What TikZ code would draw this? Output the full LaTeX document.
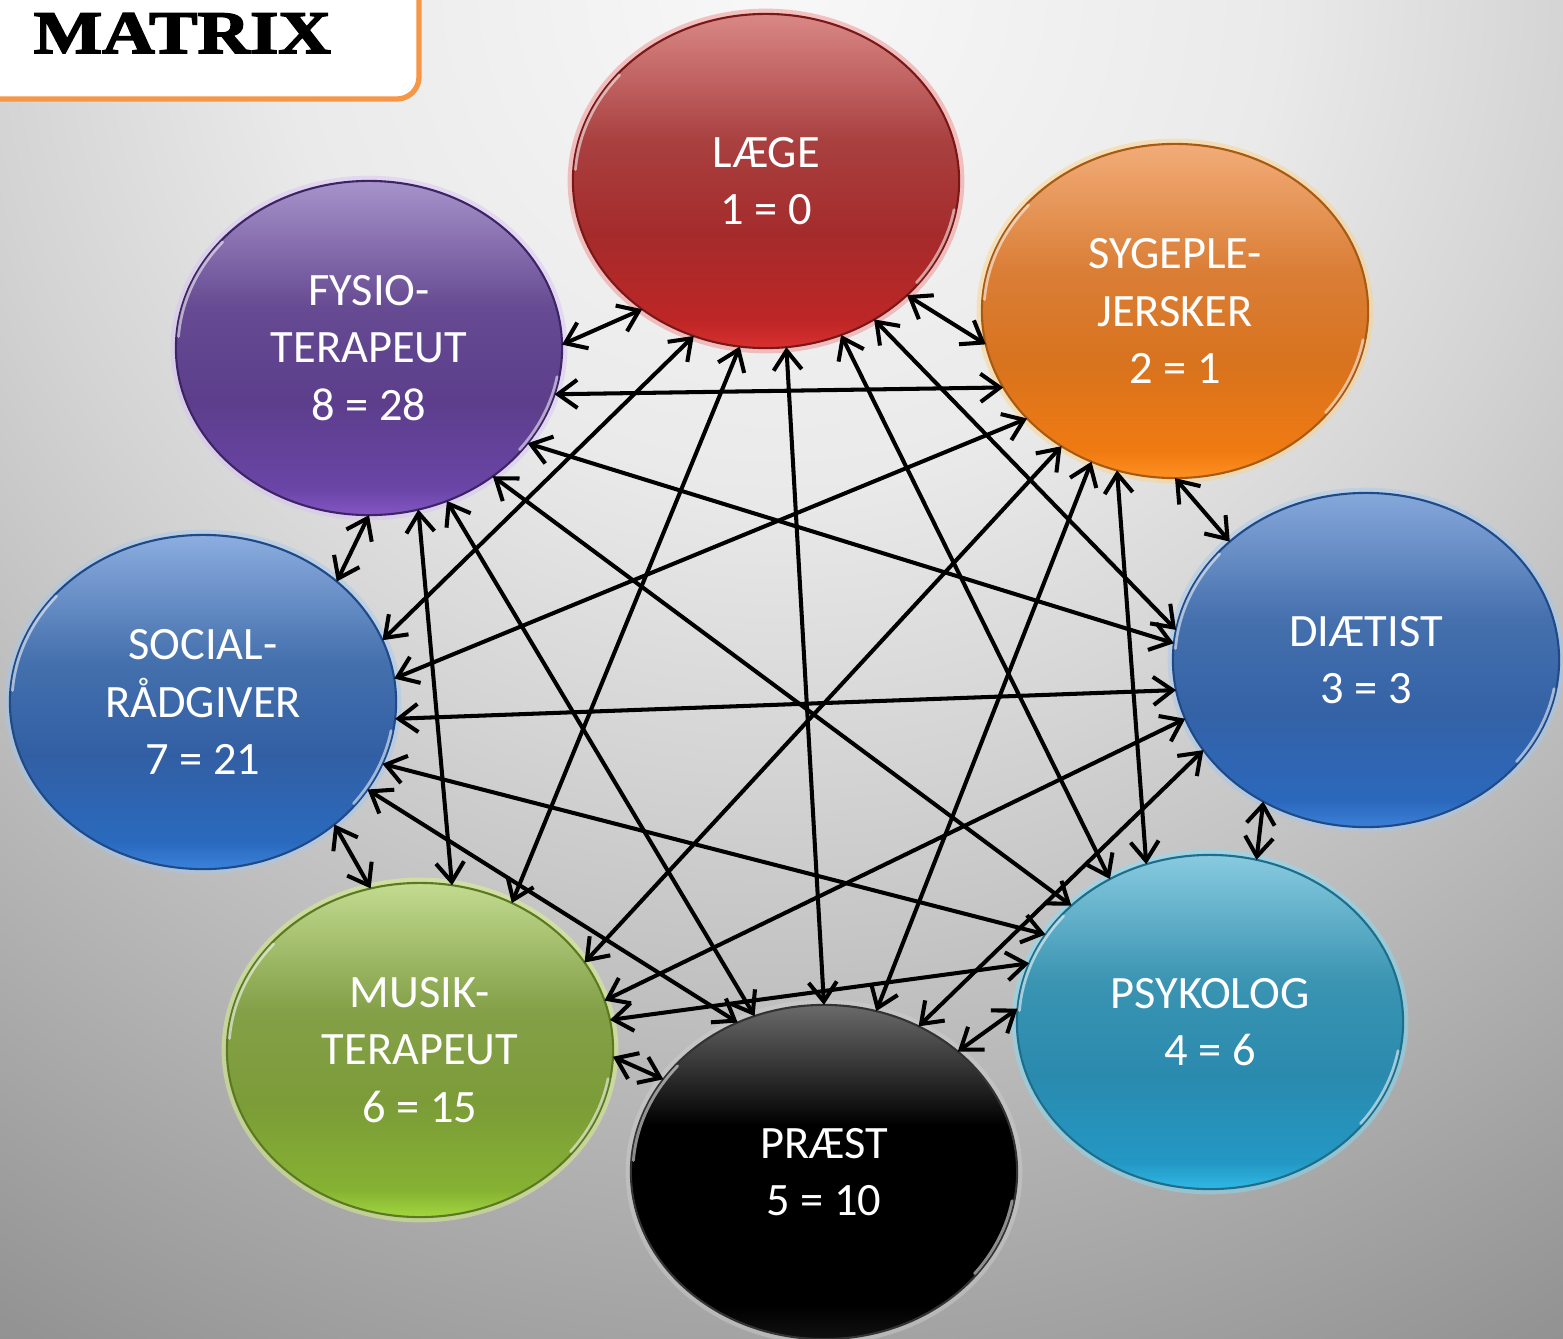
\documentclass[tikz,border=0pt]{standalone}
\usepackage{fontspec}
\setmainfont{Carlito}
\newfontfamily\titlefont{Liberation Serif}[BoldFeatures={FakeBold=2.5}]
\usetikzlibrary{arrows.meta,shapes.geometric}

% background
\definecolor{bgA}{HTML}{F8F8F8}
\definecolor{bgB}{HTML}{EAEAEA}
\definecolor{bgC}{HTML}{D3D3D3}
\definecolor{bgD}{HTML}{939393}
\definecolor{bgE}{HTML}{8C8C8C}
\pgfdeclareradialshading{bgrad}{\pgfpoint{0bp}{0bp}}{color(0bp)=(bgA); color(7.35bp)=(bgB); color(11.8bp)=(bgC); color(22.8bp)=(bgD); color(25bp)=(bgE); color(50bp)=(bgE)}
\definecolor{boxor}{HTML}{F79646}

% LAEGE
\definecolor{Lt}{HTML}{D98886}\definecolor{Lm}{HTML}{A94040}\definecolor{Ld}{HTML}{A52B2B}\definecolor{Ll}{HTML}{BE2626}\definecolor{Lb}{HTML}{D93030}
\definecolor{Lbd}{HTML}{7A1818}\definecolor{Lgl}{HTML}{F08080}
% SYGEPLEJERSKER
\definecolor{St}{HTML}{F2AC78}\definecolor{Sm}{HTML}{DA7E36}\definecolor{Sd}{HTML}{D8731E}\definecolor{Sl}{HTML}{F07A12}\definecolor{Sb}{HTML}{FF9020}
\definecolor{Sbd}{HTML}{A85A10}\definecolor{Sgl}{HTML}{FFD080}
% DIAETIST
\definecolor{Dt}{HTML}{86A8DB}\definecolor{Dm}{HTML}{4570AD}\definecolor{Dd}{HTML}{3462A6}\definecolor{Dl}{HTML}{2B68BC}\definecolor{Db}{HTML}{3A80D8}
\definecolor{Dbd}{HTML}{1E4A8A}\definecolor{Dgl}{HTML}{A0C8F0}
% PSYKOLOG
\definecolor{Pt}{HTML}{88CAE0}\definecolor{Pm}{HTML}{3A94B2}\definecolor{Pd}{HTML}{2A8AAE}\definecolor{Pl}{HTML}{2398C4}\definecolor{Pb}{HTML}{30B8E6}
\definecolor{Pbd}{HTML}{1B6E8C}\definecolor{Pgl}{HTML}{80E0FF}
% PRAEST
\definecolor{Rt}{HTML}{6A6A6A}\definecolor{Rm}{HTML}{2A2A2A}\definecolor{Rd}{HTML}{000000}\definecolor{Rb}{HTML}{111111}
\definecolor{Rbd}{HTML}{333333}\definecolor{Rgl}{HTML}{D0D0D0}
% MUSIKTERAPEUT
\definecolor{Mt}{HTML}{C2DB90}\definecolor{Mm}{HTML}{84A048}\definecolor{Md}{HTML}{7C9C38}\definecolor{Ml}{HTML}{86B232}\definecolor{Mb}{HTML}{A2D640}
\definecolor{Mbd}{HTML}{5A7A20}\definecolor{Mgl}{HTML}{E0FF80}
% SOCIALRAADGIVER
\definecolor{Ct}{HTML}{8CADDF}\definecolor{Cm}{HTML}{4470AD}\definecolor{Cd}{HTML}{325FA4}\definecolor{Cl}{HTML}{2A6ABE}\definecolor{Cb}{HTML}{3A82DA}
\definecolor{Cbd}{HTML}{1E4A8A}\definecolor{Cgl}{HTML}{A0C8F0}
% FYSIOTERAPEUT
\definecolor{Ft}{HTML}{A793CB}\definecolor{Fm}{HTML}{664A92}\definecolor{Fd}{HTML}{5C3E8C}\definecolor{Fl}{HTML}{6A45A6}\definecolor{Fb}{HTML}{8455C4}
\definecolor{Fbd}{HTML}{3E2466}\definecolor{Fgl}{HTML}{D8C0F8}

\pgfdeclareverticalshading{shL}{100bp}{color(0bp)=(Lb); color(25bp)=(Lb); color(29bp)=(Ll); color(42bp)=(Ld); color(56bp)=(Lm); color(75bp)=(Lt); color(100bp)=(Lt)}
\pgfdeclareverticalshading{shS}{100bp}{color(0bp)=(Sb); color(25bp)=(Sb); color(29bp)=(Sl); color(42bp)=(Sd); color(56bp)=(Sm); color(75bp)=(St); color(100bp)=(St)}
\pgfdeclareverticalshading{shD}{100bp}{color(0bp)=(Db); color(25bp)=(Db); color(29bp)=(Dl); color(42bp)=(Dd); color(56bp)=(Dm); color(75bp)=(Dt); color(100bp)=(Dt)}
\pgfdeclareverticalshading{shP}{100bp}{color(0bp)=(Pb); color(25bp)=(Pb); color(29bp)=(Pl); color(42bp)=(Pd); color(56bp)=(Pm); color(75bp)=(Pt); color(100bp)=(Pt)}
\pgfdeclareverticalshading{shR}{100bp}{color(0bp)=(Rb); color(25bp)=(Rb); color(30bp)=(Rd); color(57bp)=(Rd); color(64bp)=(Rm); color(75bp)=(Rt); color(100bp)=(Rt)}
\pgfdeclareverticalshading{shM}{100bp}{color(0bp)=(Mb); color(25bp)=(Mb); color(29bp)=(Ml); color(42bp)=(Md); color(56bp)=(Mm); color(75bp)=(Mt); color(100bp)=(Mt)}
\pgfdeclareverticalshading{shC}{100bp}{color(0bp)=(Cb); color(25bp)=(Cb); color(29bp)=(Cl); color(42bp)=(Cd); color(56bp)=(Cm); color(75bp)=(Ct); color(100bp)=(Ct)}
\pgfdeclareverticalshading{shF}{100bp}{color(0bp)=(Fb); color(25bp)=(Fb); color(29bp)=(Fl); color(42bp)=(Fd); color(56bp)=(Fm); color(75bp)=(Ft); color(100bp)=(Ft)}

\tikzset{
  blob/.style={ellipse, minimum width=3.86cm, minimum height=3.34cm, inner sep=0pt, outer sep=0pt,
    align=center, text=white, font=\fontsize{13.2pt}{16.4pt}\selectfont, line width=0.6pt, shade},
  glow/.style={preaction={draw=#1, line width=3pt, draw opacity=0.45}},
  conn/.style={line width=1.15pt, >={Straight Barb[length=5.5pt,width=8pt]}, <->},
  glintstyle/.style={white, line width=0.8pt, opacity=0.55, line cap=round},
}
\newcommand{\glint}[1]{%
  \begin{scope}[shift={(#1.center)}, y=0.01cm]
    \draw[glintstyle] (140:191 and 165) arc[start angle=140, end angle=176, x radius=191, y radius=165];
    \draw[glintstyle] (-38:191 and 165) arc[start angle=-38, end angle=-10, x radius=191, y radius=165];
  \end{scope}}

\begin{document}
\begin{tikzpicture}[x=0.01cm, y=-0.01cm]
\useasboundingbox (0,0) rectangle (1563,1339);
\clip (0,0) rectangle (1563,1339);
\shade[shading=bgrad] (780,-20) circle (1700);

% title box
\draw[line width=1.5pt, draw=boxor, fill=white, rounded corners=0.22cm] (-40,-40) rectangle (419,99);
\node[anchor=base west, inner sep=0pt] (title) at (33,53)
  {\titlefont\bfseries\fontsize{17.2pt}{20pt}\selectfont\scalebox{1.2}[1]{MATRIX}};

% nodes
\node[blob, shading=shL, draw=Lbd, glow=Lgl] (L) at (766,181) {LÆGE\\1 = 0};
\node[blob, shading=shS, draw=Sbd, glow=Sgl] (S) at (1175,311) {SYGEPLE-\\JERSKER\\2 = 1};
\node[blob, shading=shD, draw=Dbd, glow=Dgl] (D) at (1366,660) {DIÆTIST\\3 = 3};
\node[blob, shading=shP, draw=Pbd, glow=Pgl] (P) at (1210,1022) {PSYKOLOG\\4 = 6};
\node[blob, shading=shR, draw=Rbd, glow=Rgl] (R) at (824,1172) {PRÆST\\5 = 10};
\node[blob, shading=shM, draw=Mbd, glow=Mgl] (M) at (420,1050) {MUSIK-\\TERAPEUT\\6 = 15};
\node[blob, shading=shC, draw=Cbd, glow=Cgl] (C) at (203,702) {SOCIAL-\\RÅDGIVER\\7 = 21};
\node[blob, shading=shF, draw=Fbd, glow=Fgl] (F) at (369,348) {FYSIO-\\TERAPEUT\\8 = 28};

\glint{L}\glint{S}\glint{D}\glint{P}\glint{R}\glint{M}\glint{C}\glint{F}

% neighbours
\draw[conn] (F.1) -- (L.-134);
\draw[conn] (L.-39) -- (S.-170);
\draw[conn] (S.-90) -- (D.139);
\draw[conn] (D.-126) -- (P.74);
\draw[conn] (P.176) -- (R.42);
\draw[conn] (R.150) -- (M.-2);
\draw[conn] (M.107) -- (C.-43);
\draw[conn] (C.42) -- (F.-90);

% chords
\draw[conn] (F.-14) -- (S.-156);
\draw[conn] (F.-31) -- (D.175);
\draw[conn] (F.-46) -- (P.140);
\draw[conn] (F.-63) -- (R.114);
\draw[conn] (F.-73) -- (M.79);
\draw[conn] (L.-115) -- (C.19);
\draw[conn] (L.-99) -- (M.58);
\draw[conn] (L.-83) -- (R.90);
\draw[conn] (L.-64) -- (P.125);
\draw[conn] (L.-52) -- (D.171);
\draw[conn] (S.-144) -- (C.7);
\draw[conn] (S.-130) -- (M.28);
\draw[conn] (S.-119) -- (R.72);
\draw[conn] (S.-110) -- (P.112);
\draw[conn] (D.-171) -- (C.-5);
\draw[conn] (D.-162) -- (M.15);
\draw[conn] (D.-151) -- (R.57);
\draw[conn] (P.152) -- (C.-19);
\draw[conn] (P.162) -- (M.9);
\draw[conn] (C.-28) -- (R.120);
\end{tikzpicture}
\end{document}
